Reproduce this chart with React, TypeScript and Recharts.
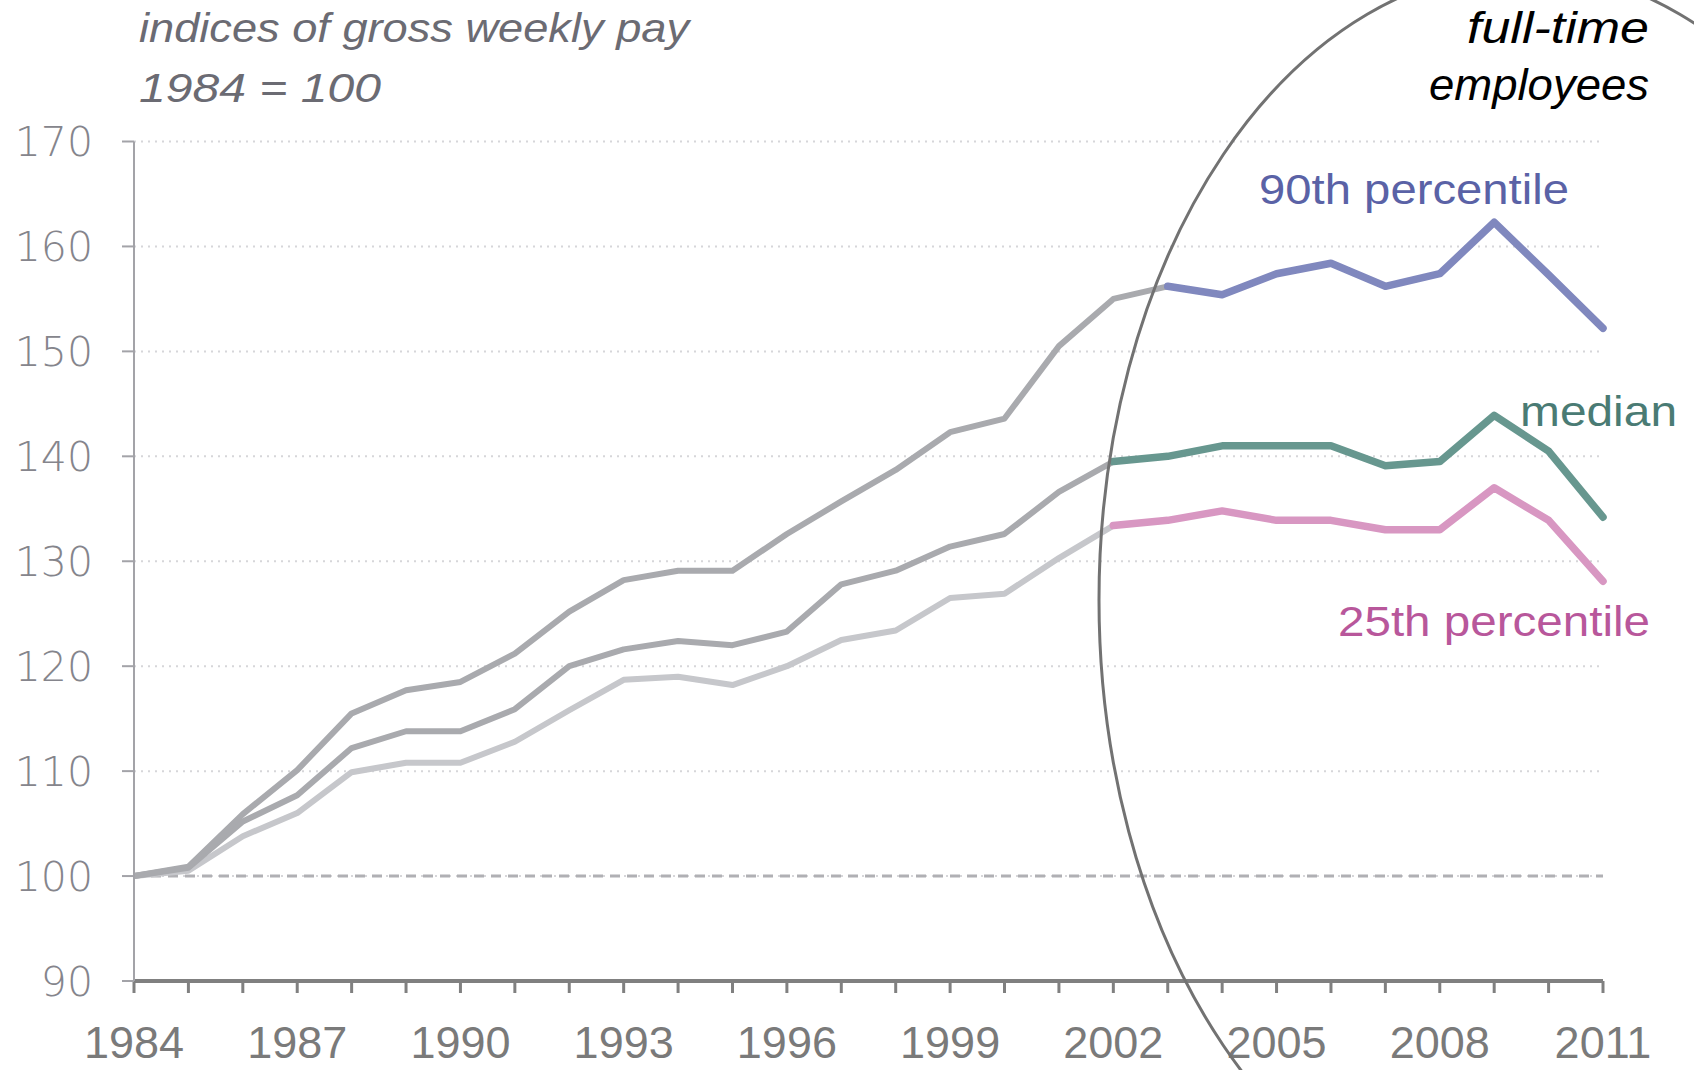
import { LineChart, Line, XAxis, YAxis, CartesianGrid, ReferenceLine } from "recharts";

const years = [
  1984, 1985, 1986, 1987, 1988, 1989, 1990, 1991, 1992, 1993, 1994, 1995, 1996, 1997,
  1998, 1999, 2000, 2001, 2002, 2003, 2004, 2005, 2006, 2007, 2008, 2009, 2010, 2011,
];
const p90 = [
  100, 100.9, 105.9, 110.1, 115.5, 117.7, 118.5, 121.2, 125.2, 128.2, 129.1, 129.1, 132.6, 135.7,
  138.7, 142.3, 143.6, 150.5, 155.0, 156.2, 155.4, 157.4, 158.4, 156.2, 157.4, 162.3, 157.3, 152.2,
];
const median = [
  100, 100.8, 105.2, 107.7, 112.2, 113.8, 113.8, 115.9, 120.0, 121.6, 122.4, 122.0, 123.3, 127.8,
  129.1, 131.4, 132.6, 136.6, 139.5, 140.0, 141.0, 141.0, 141.0, 139.1, 139.5, 143.9, 140.5, 134.2,
];
const p25 = [
  100, 100.5, 103.8, 106.0, 109.9, 110.8, 110.8, 112.8, 115.8, 118.7, 119.0, 118.2, 120.0, 122.5,
  123.4, 126.5, 126.9, 130.3, 133.4, 133.9, 134.8, 133.9, 133.9, 133.0, 133.0, 137.0, 133.9, 128.1,
];
const yTicks = [90, 100, 110, 120, 130, 140, 150, 160, 170];
const labelledYears = [1984, 1987, 1990, 1993, 1996, 1999, 2002, 2005, 2008, 2011];
const p90ColourFrom = 2003;
const colourFrom = 2002;

const data = years.map((year, i) => ({
  year,
  p90Grey: year <= p90ColourFrom ? p90[i] : null,
  p90: year >= p90ColourFrom ? p90[i] : null,
  medianGrey: year <= colourFrom ? median[i] : null,
  median: year >= colourFrom ? median[i] : null,
  p25Grey: year <= colourFrom ? p25[i] : null,
  p25: year >= colourFrom ? p25[i] : null,
}));

const greyLine = { strokeWidth: 6, dot: false, isAnimationActive: false, strokeLinejoin: "round" as const, connectNulls: false };
const colourLine = { strokeWidth: 7.5, dot: false, isAnimationActive: false, strokeLinejoin: "round" as const, strokeLinecap: "round" as const, connectNulls: false };

export default function App() {
  return (
    <div style={{ position: "absolute", left: 0, top: 0, width: 1694, height: 1070, overflow: "hidden", background: "#fff" }}>
      <LineChart width={1694} height={1070} data={data} margin={{ top: 141.5, right: 91, bottom: 0, left: 0 }}>
        <CartesianGrid vertical={false} stroke="#d6d6d9" strokeWidth={2} strokeDasharray="2 5" />
        <ReferenceLine y={100} stroke="#b0b0b4" strokeWidth={3} strokeDasharray="10 7" />
        <XAxis
          dataKey="year"
          interval={0}
          height={89}
          tickSize={12}
          tickMargin={33}
          axisLine={{ stroke: "#808080", strokeWidth: 4 }}
          tickLine={{ stroke: "#808080", strokeWidth: 3 }}
          tickFormatter={(v: number) => (labelledYears.includes(v) ? String(v) : "")}
          tick={{ fill: "#7a7a7a", fontSize: 45, fontFamily: "Liberation Sans" }}
        />
        <YAxis
          domain={[90, 170]}
          ticks={yTicks}
          width={134}
          tickSize={12}
          tickMargin={29}
          axisLine={{ stroke: "#a3a3a8", strokeWidth: 2 }}
          tickLine={{ stroke: "#a3a3a8", strokeWidth: 2 }}
          tick={{ fill: "#85858c", fontSize: 41, fontFamily: "DejaVu Sans", fontWeight: 200 }}
        />
        <Line dataKey="p25Grey" stroke="#c6c7cb" {...greyLine} />
        <Line dataKey="medianGrey" stroke="#a9aaae" {...greyLine} />
        <Line dataKey="p90Grey" stroke="#a9aaae" {...greyLine} />
        <Line dataKey="p25" stroke="#d897c2" {...colourLine} />
        <Line dataKey="median" stroke="#67978f" {...colourLine} />
        <Line dataKey="p90" stroke="#8088be" {...colourLine} />
      </LineChart>
      <svg width={1694} height={1070} style={{ position: "absolute", left: 0, top: 0, pointerEvents: "none" }}>
        <ellipse cx={1523.5} cy={600} rx={424.5} ry={630} fill="none" stroke="#727272" strokeWidth={3} />
        <g fontFamily="Liberation Sans" fontStyle="italic" fill="#6b6b73" fontSize={40}>
          <text x={139} y={42} textLength={550} lengthAdjust="spacingAndGlyphs">indices of gross weekly pay</text>
          <text x={139} y={102} textLength={242} lengthAdjust="spacingAndGlyphs">1984  = 100</text>
        </g>
        <g fontFamily="Liberation Sans" fontStyle="italic" fill="#000" fontSize={44}>
          <text x={1467} y={43} textLength={182} lengthAdjust="spacingAndGlyphs">full-time</text>
          <text x={1429} y={100} textLength={220} lengthAdjust="spacingAndGlyphs">employees</text>
        </g>
        <g fontFamily="Liberation Sans" fontSize={43}>
          <text x={1259} y={204} fill="#5a62a6" textLength={310} lengthAdjust="spacingAndGlyphs">90th percentile</text>
          <text x={1520} y={426} fill="#4a7b74" textLength={157} lengthAdjust="spacingAndGlyphs">median</text>
          <text x={1338} y={636} fill="#b8579b" textLength={312} lengthAdjust="spacingAndGlyphs">25th percentile</text>
        </g>
      </svg>
    </div>
  );
}
